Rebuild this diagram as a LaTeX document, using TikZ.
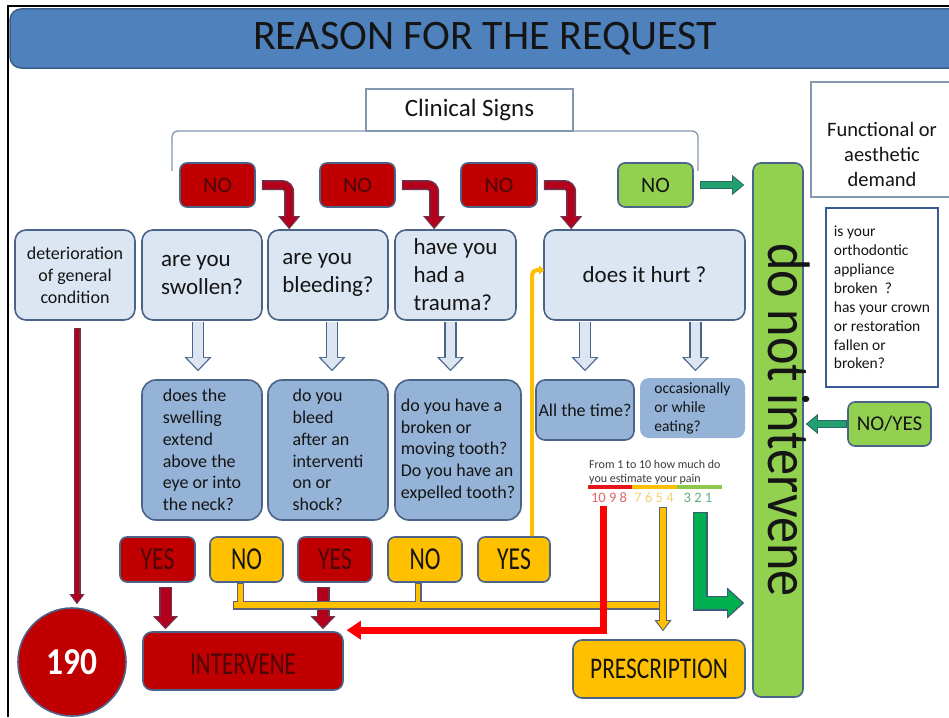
\documentclass[tikz,border=0pt]{standalone}
\usepackage{fontspec}
\setmainfont{Carlito}
\usepackage{graphicx}
\usetikzlibrary{arrows.meta,calc}
\definecolor{tbar}{HTML}{4F81BD}
\definecolor{tbord}{HTML}{3A5F8C}
\definecolor{lblue}{HTML}{DCE6F2}
\definecolor{mblue}{HTML}{95B3D7}
\definecolor{bord}{HTML}{4A6388}
\definecolor{dred}{HTML}{C00000}
\definecolor{arred}{HTML}{B3001B}
\definecolor{redout}{HTML}{6B3552}
\definecolor{ygold}{HTML}{FFC000}
\definecolor{yout}{HTML}{5B6277}
\definecolor{lgreen}{HTML}{92D050}
\definecolor{tealfill}{HTML}{22A06E}
\definecolor{tealout}{HTML}{2B6A66}
\definecolor{bgreen}{HTML}{00B050}
\definecolor{gout}{HTML}{3C5C7C}
\definecolor{txt}{HTML}{151515}
\definecolor{redtxt}{HTML}{4A0808}
\definecolor{thinb}{HTML}{8497B0}
\definecolor{qbord}{HTML}{3A5A96}
\definecolor{painr}{HTML}{E8141C}
\definecolor{painy}{HTML}{FFC000}
\definecolor{paing}{HTML}{8CC84B}
\definecolor{numr}{HTML}{E06666}
\definecolor{numy}{HTML}{F2D46E}
\definecolor{numg}{HTML}{5DAF80}
\definecolor{scaletxt}{HTML}{3A3A3A}
\definecolor{pureRed}{HTML}{FF0000}

\newcommand{\setfs}[2]{\fontsize{#1}{#2}\selectfont}
\newcommand{\condtxt}[2]{\scalebox{#1}[1]{#2}}
\newcommand{\barr}[2]{\draw[#1O] #2; \draw[#1I] #2;}

\tikzset{
 box/.style={draw=bord, line width=1.6pt, rounded corners=11pt, text=txt, inner sep=0pt, align=left},
 lbox/.style={box, fill=lblue},
 mbox/.style={box, fill=mblue, rounded corners=14pt},
 nobox/.style={box, fill=dred, rounded corners=7pt, text=redtxt, minimum width=75pt, minimum height=44pt, font=\setfs{22}{26}},
 yesbox/.style={box, fill=dred, text=redtxt, rounded corners=7pt, minimum height=45pt, font=\setfs{32}{34}},
 ynobox/.style={box, fill=ygold, text=txt, rounded corners=7pt, minimum height=45pt, font=\setfs{32}{34}},
 arrRedO/.style={draw=redout, line width=10pt, rounded corners=7pt, -{Triangle[width=22pt,length=13pt,line width=0pt]}},
 arrRedI/.style={draw=arred, line width=7pt, rounded corners=7pt, shorten >=1.8pt, shorten <=1.2pt, -{Triangle[width=17pt,length=10.5pt,line width=0pt]}},
 arrTealO/.style={draw=tealout, line width=8pt, -{Triangle[width=20pt,length=12pt,line width=0pt]}},
 arrTealI/.style={draw=tealfill, line width=5.4pt, shorten >=1.6pt, shorten <=1.2pt, -{Triangle[width=15.5pt,length=9.6pt,line width=0pt]}},
 arrHolO/.style={draw=bord, line width=12.5pt, -{Triangle[width=27pt,length=14pt,line width=0pt]}},
 arrHolI/.style={draw=lblue, line width=9.5pt, shorten >=1.8pt, shorten <=0.6pt, -{Triangle[width=22pt,length=11.5pt,line width=0pt]}},
 arrRedBigO/.style={draw=redout, line width=13pt, -{Triangle[width=25pt,length=13pt,line width=0pt]}},
 arrRedBigI/.style={draw=arred, line width=10pt, shorten >=1.8pt, shorten <=1.2pt, -{Triangle[width=20pt,length=10.5pt,line width=0pt]}},
 arrRedThinO/.style={draw=redout, line width=7pt, -{Triangle[width=15pt,length=10pt,line width=0pt]}},
 arrRedThinI/.style={draw=arred, line width=4.6pt, shorten >=1.5pt, shorten <=1.2pt, -{Triangle[width=11pt,length=8pt,line width=0pt]}},
 yBarO/.style={draw=yout, line width=9pt},
 yBarI/.style={draw=ygold, line width=6pt, shorten <=1.3pt},
 yStubO/.style={draw=yout, line width=7pt},
 yStubI/.style={draw=ygold, line width=4.6pt, shorten <=1pt},
 arrYelO/.style={draw=yout, line width=8pt, -{Triangle[width=17pt,length=11pt,line width=0pt]}},
 arrYelI/.style={draw=ygold, line width=5.5pt, shorten >=1.6pt, shorten <=1.2pt, -{Triangle[width=12.5pt,length=8.6pt,line width=0pt]}},
 arrGreenO/.style={draw=gout, line width=15pt, -{Triangle[width=31pt,length=17pt,line width=0pt]}},
 arrGreenI/.style={draw=bgreen, line width=12pt, shorten >=2pt, shorten <=1.4pt, -{Triangle[width=25.5pt,length=14pt,line width=0pt]}},
 redscale/.style={draw=pureRed, line width=7pt, -{Triangle[width=19pt,length=14pt,line width=0pt]}},
 yline/.style={draw=ygold, line width=4pt, rounded corners=5pt, -{Triangle[width=9pt,length=5pt,line width=0pt]}},
}

\begin{document}
\begin{tikzpicture}[x=1pt,y=-1pt]
\useasboundingbox (0,0) rectangle (949,717);
\clip (0,0) rectangle (949,717);
\fill[white] (0,0) rectangle (949,717);

% title
\node[draw=tbord, line width=1.5pt, fill=tbar, rounded corners=11pt, minimum width=950pt, minimum height=59pt, inner sep=0pt, font=\setfs{42}{46}, text=txt] (title) at (485,38.5) {REASON FOR THE REQUEST};

% bracket and clinical signs
\draw[draw=thinb, line width=1.3pt, rounded corners=6pt] (172,171) -- (172,131) -- (698,131) -- (698,171);
\node[draw=thinb, line width=1.3pt, fill=white, minimum width=207pt, minimum height=42pt, inner sep=0pt, font=\setfs{25}{28}, text=txt] (clin) at (469.5,110) {Clinical Signs};

% NO row
\node[nobox] (no1) at (217.5,185) {NO};
\node[nobox] (no2) at (357.5,185) {NO};
\node[nobox, minimum width=76pt] (no3) at (499,185) {NO};
\node[nobox, fill=lgreen, text=txt] (gno) at (655.5,185) {NO};

% row 1
\node[lbox, align=center, minimum width=120pt, minimum height=90pt, font=\setfs{18}{22}] (det) at (75,275) {deterioration\\of general\\condition};
\node[lbox, minimum width=120pt, minimum height=90pt, font=\setfs{23}{28}] (swollen) at (202,275) {are you\\swollen?};
\node[lbox, minimum width=120pt, minimum height=90pt, font=\setfs{23}{28}] (bleeding) at (328,275) {are you\\bleeding?};
\node[lbox, minimum width=121pt, minimum height=90pt, font=\setfs{23}{28}] (trauma) at (455.5,275) {have you\\had a\\trauma?};
\node[lbox, minimum width=201pt, minimum height=90pt, font=\setfs{23}{28}] (hurt) at (644.5,275) {does it hurt ?};

% row 2
\node[mbox, minimum width=120pt, minimum height=140pt, font=\setfs{18}{21.8}] (swelling) at (202,450) {does the\\swelling\\extend\\above the\\eye or into\\the neck?};
\node[mbox, minimum width=120pt, minimum height=140pt, font=\setfs{18}{21.8}] (bleed2) at (328,450) {do you\\bleed\\after an\\interventi\\on or\\shock?};
\node[mbox, minimum width=126pt, minimum height=140pt, font=\setfs{18}{21.8}] (trauma2) at (458,450) {do you have a\\broken or\\moving tooth?\\Do you have an\\expelled tooth?};
\node[mbox, rounded corners=9pt, minimum width=98pt, minimum height=60pt, font=\setfs{18}{21}] (alltime) at (585,410) {All the time?};
\node[mbox, draw=none, rounded corners=9pt, minimum width=105pt, minimum height=60pt, font=\setfs{15.5}{19}] (occ) at (692.5,408) {occasionally\\or while\\eating?};

% right column
\node[box, fill=lgreen, rounded corners=8pt, minimum width=50pt, minimum height=534pt] (dni) at (778,430) {};
\node[rotate=-90, anchor=base, font=\setfs{60}{64}, text=txt, inner sep=0pt] (dnit) at (768,420) {\condtxt{0.87}{do not intervene}};
\node[draw=thinb, line width=1.2pt, fill=white, minimum width=144pt, minimum height=115pt, inner sep=0pt] (func) at (883,139.5) {};
\node[align=center, font=\setfs{20.5}{25}, text=txt, inner sep=0pt] (funct) at (882,154) {Functional or\\aesthetic\\demand};
\node[draw=qbord, line width=2.4pt, fill=white, minimum width=112pt, minimum height=179pt, inner sep=0pt, align=left, font=\setfs{15.5}{18.9}, text=txt] (quest) at (882,297.5) {is your\\orthodontic\\appliance\\broken~ ?\\has your crown\\or restoration\\fallen or\\broken?};
\node[box, fill=lgreen, rounded corners=7pt, minimum width=83pt, minimum height=44pt, font=\setfs{21}{24}] (noyes) at (889.5,424) {NO/YES};

% pain scale
\node[anchor=west, align=left, inner sep=0pt, font=\setfs{12}{14}, text=scaletxt] (scalet) at (589,472) {From 1 to 10 how much do\\you estimate your pain};
\draw[line width=3.5pt, painr] (588,487) -- (632,487);
\draw[line width=3.5pt, painy] (632,487) -- (677,487);
\draw[line width=3.5pt, paing] (677,487) -- (722,487);
\node[font=\setfs{14.5}{16}, text=numr, inner sep=1pt] (n1098) at (609,498) {10 9 8};
\node[font=\setfs{14.5}{16}, text=numy, inner sep=1pt] (n7654) at (654,498) {7 6 5 4};
\node[font=\setfs{14.5}{16}, text=numg, inner sep=1pt] (n321) at (698,498) {3 2 1};

% bottom row
\node[yesbox, minimum width=75pt] (yes1) at (157.5,559.5) {\condtxt{0.74}{YES}};
\node[ynobox, minimum width=73pt] (nob1) at (246.5,559.5) {\condtxt{0.74}{NO}};
\node[yesbox, minimum width=74pt] (yes2) at (335,559.5) {\condtxt{0.74}{YES}};
\node[ynobox, minimum width=74pt] (nob2) at (425,559.5) {\condtxt{0.74}{NO}};
\node[ynobox, minimum width=72pt] (yes3) at (514,559.5) {\condtxt{0.74}{YES}};
\node[circle, draw=bord, line width=1.6pt, fill=dred, minimum size=108pt, inner sep=0pt, text=white, font=\bfseries\setfs{38}{40}] (c190) at (72,662) {\condtxt{0.88}{190}};
\node[box, fill=dred, text=redtxt, rounded corners=9pt, minimum width=200pt, minimum height=58pt, font=\setfs{32}{34}, text height=26pt, text depth=0pt] (interv) at (243,661) {\condtxt{0.72}{INTERVENE}};
\node[box, fill=ygold, text=txt, rounded corners=9pt, minimum width=172pt, minimum height=58pt, font=\setfs{30}{32}] (presc) at (659,669) {\condtxt{0.78}{PRESCRIPTION}};

% connectors: top
\barr{arrRed}{([xshift=6pt]no1.east) -| ([xshift=22pt]bleeding.north west)}
\barr{arrRed}{([xshift=6pt]no2.east) -| ([xshift=40pt]trauma.north west)}
\barr{arrRed}{([xshift=6pt]no3.east) -| ([xshift=28pt]hurt.north west)}
\barr{arrTeal}{([xshift=6pt]gno.east) -- ($(gno.east -| dni.west)+(-8,0)$)}
\barr{arrTeal}{(noyes.west) -- ($(noyes.west -| dni.east)+(2,0)$)}

% hollow down arrows
\barr{arrHol}{($(swollen.south)+(-4,1)$) -- ($(swollen.south |- swelling.north)+(-4,-8)$)}
\barr{arrHol}{($(bleeding.south)+(4,1)$) -- ($(bleeding.south |- bleed2.north)+(4,-8)$)}
\barr{arrHol}{($(trauma.south)+(-5,1)$) -- ($(trauma.south |- trauma2.north)+(-5,-8)$)}
\barr{arrHol}{($(hurt.south -| alltime.north)+(0,1)$) -- ($(alltime.north)+(0,-8)$)}
\barr{arrHol}{($(hurt.south -| occ.north)+(3,1)$) -- ($(occ.north)+(3,-6)$)}

% deterioration -> 190
\barr{arrRedThin}{($(det.south)+(2,7)$) -- ($(det.south |- c190.north)+(2,-3)$)}

% YES -> INTERVENE
\barr{arrRedBig}{($(yes1.south)+(8,4)$) -- ($(yes1.south |- interv.north)+(8,-2)$)}
\barr{arrRedBig}{($(yes2.south)+(-12,4)$) -- ($(yes2.south |- interv.north)+(-12,-2)$)}

% yellow network
\coordinate (ybL) at (233,605);
\draw[yStubO] ($(nob1.south)+(-6,0)$) -- ($(nob1.south |- ybL)+(-6,0)$);
\draw[yStubO] ($(nob2.south)+(-7,0)$) -- ($(nob2.south |- ybL)+(-7,0)$);
\draw[yBarO] (ybL) -- ($(presc.north |- ybL)+(4,0)$);
\draw[yBarI] (ybL) -- ($(presc.north |- ybL)+(4,0)$);
\draw[yStubI] ($(nob1.south)+(-6,0)$) -- ($(nob1.south |- ybL)+(-6,0)$);
\draw[yStubI] ($(nob2.south)+(-7,0)$) -- ($(nob2.south |- ybL)+(-7,0)$);
\barr{arrYel}{($(presc.north |- n7654.south)+(4,3)$) -- ($(presc.north)+(4,-8)$)}

% YES (yellow) -> does it hurt
\draw[yline] ($(yes3.north)+(18,0)$) |- ($(hurt.west)+(1,-5)$);

% pain 10-8 -> INTERVENE
\draw[redscale] ($(n1098.south)+(-6,2)$) |- ($(interv.north east)+(3,-1)$);

% pain 3-1 -> do not intervene
\barr{arrGreen}{($(n321.south)+(2,8)$) |- ($(ybL -| dni.west)+(-8,-2)$)}

% frame
\draw[black, line width=2pt] (8,717) -- (8,6) -- (949,6);
\end{tikzpicture}
\end{document}
